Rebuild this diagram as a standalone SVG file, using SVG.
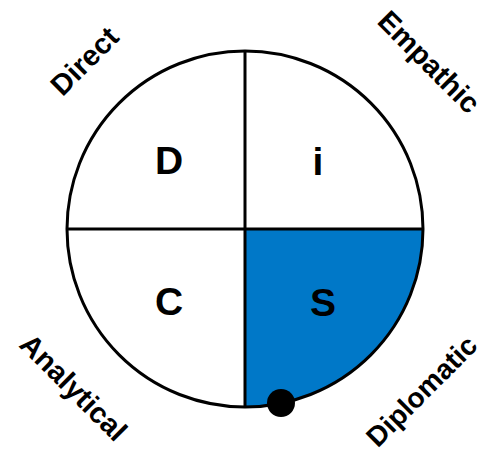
<svg xmlns="http://www.w3.org/2000/svg" width="486" height="453" viewBox="0 0 486 453">
<style>
.q{font-family:"Liberation Sans",Arial,sans-serif;font-weight:bold;font-size:39px;fill:#000;text-anchor:middle}
.lab{font-family:"Liberation Sans",Arial,sans-serif;font-weight:bold;font-size:29px;fill:#000;text-anchor:middle}
.ln{stroke:#000;stroke-width:3;fill:none}
</style>
<rect width="486" height="453" fill="#fff"/>
<g id="quadrant-S">
<path d="M245,229 H423 A178,178 0 0 1 245,407 Z" fill="#0078c8"/>
</g>
<g id="outline">
<circle cx="245" cy="229" r="178" class="ln"/>
</g>
<g id="connectors">
<line x1="245" y1="51" x2="245" y2="407" class="ln"/>
<line x1="67" y1="229" x2="423" y2="229" class="ln"/>
</g>
<g id="quadrant-D"><text class="q" x="169" y="174">D</text></g>
<g id="quadrant-i"><text class="q" x="318" y="175">i</text></g>
<g id="quadrant-C"><text class="q" x="169" y="315">C</text></g>
<g id="quadrant-S-label"><text class="q" x="323" y="316">S</text></g>
<g id="label-direct"><text class="lab" transform="translate(84.5,61) rotate(-45)" x="0" y="10">Direct</text></g>
<g id="label-empathic"><text class="lab" transform="translate(427,64) rotate(45)" x="0" y="7">Empathic</text></g>
<g id="label-analytical"><text class="lab" transform="translate(71.5,389.5) rotate(45)" x="0" y="7">Analytical</text></g>
<g id="label-diplomatic"><text class="lab" style="font-size:28px" transform="translate(423.5,393) rotate(-45)" x="0" y="7">Diplomatic</text></g>
<g id="marker-dot"><circle cx="281" cy="403" r="14" fill="#000"/></g>
</svg>
